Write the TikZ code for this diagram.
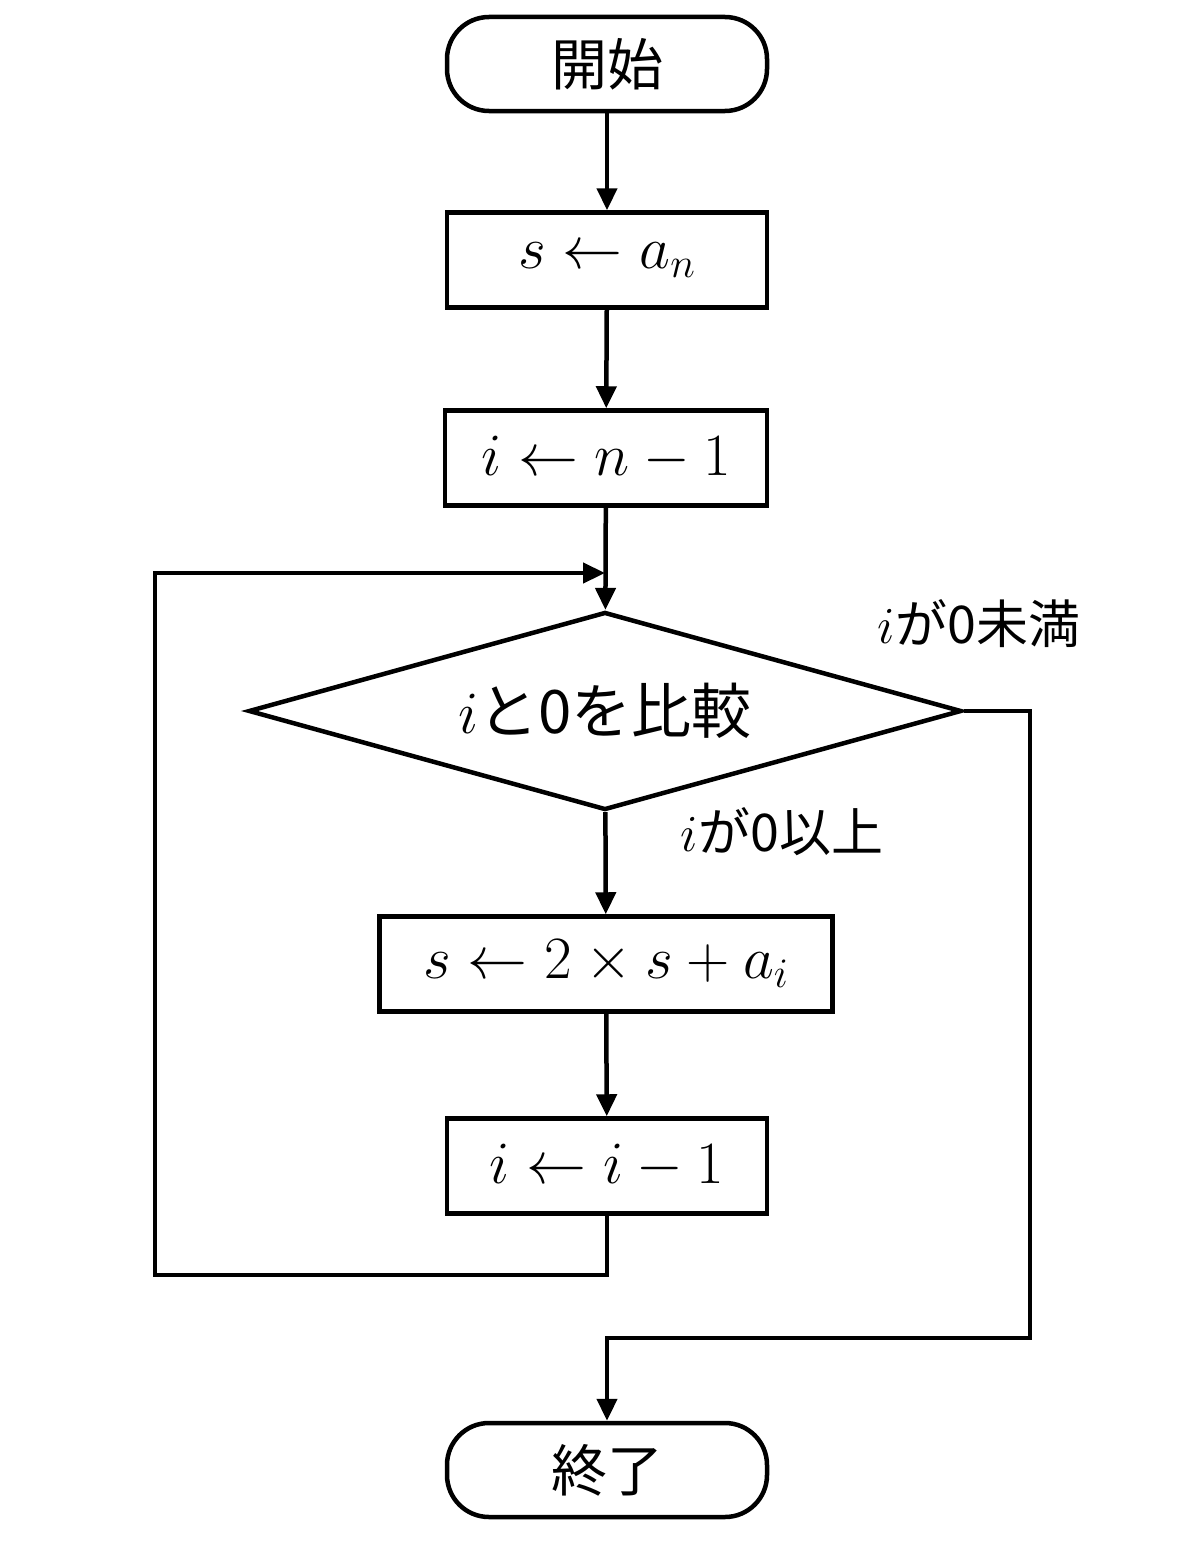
\RequirePackage{fix-cm}
\documentclass[tikz,border=0pt]{standalone}
\usepackage{fontspec}
\newfontfamily\jp{Noto Sans CJK JP}
\usetikzlibrary{shapes.geometric,arrows.meta}
\begin{document}
\begin{tikzpicture}[x=1pt,y=-1pt,line width=4.5pt,
    font=\fontsize{60}{70}\selectfont,
    term/.style={draw,rounded corners=42pt,minimum width=320pt,minimum height=94pt,
        font=\fontsize{56}{64}\selectfont\jp},
    box/.style={draw,minimum height=95pt,inner sep=0pt},
    cond/.style={draw,diamond,aspect=3.6,minimum width=713pt,minimum height=198pt,inner sep=0pt},
    lbl/.style={font=\fontsize{52}{60}\selectfont},
    arr/.style={-{Triangle[length=22pt,width=20pt]}}]
    \useasboundingbox (0,0) rectangle (1200,1563);
    \node[term] (start) at (607,64) {開始};
    \node[box,minimum width=320pt] (init1) at (607,260) {$s \leftarrow a_n$};
    \node[box,minimum width=322pt] (init2) at (606,458) {$i \leftarrow n - 1$};
    \node[cond] (cmp) at (605,711) {$i${\jp と0を比較}};
    \node[box,minimum width=453pt] (upd) at (606,964) {$s \leftarrow 2 \times s + a_i$};
    \node[box,minimum width=320pt] (dec) at (607,1166) {$i \leftarrow i - 1$};
    \node[term] (stop) at (607,1470) {終了};
    \node[lbl] (lt) at (979,624) {$i${\jp が0未満}};
    \node[lbl] (ge) at (782,832) {$i${\jp が0以上}};
    \coordinate (lb) at (155,1275);
    \coordinate (ltop) at (155,573);
    \coordinate (rb) at (1030,1338);
    \draw[arr] (start) -- (init1);
    \draw[arr] (init1) -- (init2);
    \draw[arr] (init2) -- (cmp);
    \draw[arr] (cmp) -- (upd);
    \draw[arr] (upd) -- (dec);
    \draw[arr] (dec.south) |- (lb) -- (ltop) -- (ltop -| cmp.north);
    \draw[arr] (cmp.east) -| (rb) -| (stop.north);
\end{tikzpicture}
\end{document}
